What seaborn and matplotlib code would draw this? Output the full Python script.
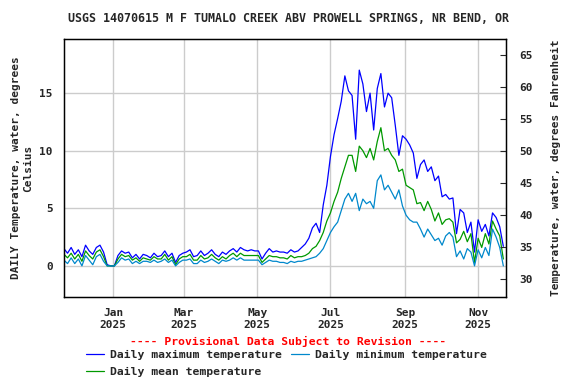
import matplotlib
matplotlib.use("Agg")
import matplotlib.pyplot as plt
import pandas as pd
import seaborn as sns

# ---------------------------------
# Data (every 3rd day)
# ---------------------------------

start_date = "2024-11-21"

temp_max = [
    1.5, 1.1, 1.6, 1.0, 1.4, 0.8, 1.8, 1.3, 1.0, 1.6, 1.8, 1.2, 0.1, 0.0,
    0.0, 0.9, 1.3, 1.1, 1.2, 0.7, 1.0, 0.6, 1.0, 0.9, 0.7, 1.1, 0.8, 0.9, 1.3, 0.8, 1.1, 0.3, 0.9, 1.1,
    1.2, 1.4, 0.8, 0.9, 1.3, 0.9, 1.1, 1.4, 1.0, 0.8, 1.2, 1.0, 1.3, 1.5, 1.2, 1.6, 1.4, 1.3, 1.4, 1.3,
    1.3, 0.6, 1.1, 1.5, 1.2, 1.3, 1.2, 1.2, 1.1, 1.4, 1.2, 1.3, 1.6, 1.9, 2.4, 3.3, 3.7, 2.9, 5.3, 7.0,
    9.5, 11.4, 12.8, 14.3, 16.5, 15.2, 14.8, 11.0, 17.0, 15.8, 13.4, 15.0, 11.8, 15.4, 16.7, 13.8, 15.0, 14.6, 12.2, 9.6, 11.3,
    11.0, 10.5, 9.8, 7.6, 8.8, 9.2, 8.2, 8.6, 7.4, 7.8, 6.0, 6.2, 5.8, 5.9, 2.8, 4.9, 4.6, 2.9, 3.8, 1.2,
    4.0, 3.0, 3.6, 2.6, 4.6, 4.2, 3.4, 1.7,
]

temp_mean = [
    1.0, 0.7, 1.1, 0.6, 1.0, 0.4, 1.3, 0.9, 0.6, 1.2, 1.4, 0.8, 0.0, 0.0,
    0.0, 0.6, 1.0, 0.8, 0.9, 0.5, 0.7, 0.4, 0.7, 0.6, 0.5, 0.8, 0.6, 0.6, 1.0, 0.5, 0.8, 0.1, 0.6, 0.8,
    0.8, 1.0, 0.5, 0.5, 0.9, 0.6, 0.7, 1.0, 0.7, 0.5, 0.8, 0.6, 0.9, 1.1, 0.8, 1.1, 0.9, 0.9, 0.9, 0.9,
    0.9, 0.3, 0.6, 0.9, 0.8, 0.8, 0.7, 0.7, 0.6, 0.9, 0.7, 0.8, 0.8, 0.9, 1.1, 1.5, 1.7, 2.2, 2.9, 3.9,
    4.6, 5.6, 6.4, 7.6, 8.6, 9.6, 9.6, 8.2, 10.4, 10.0, 9.4, 10.2, 9.2, 10.8, 12.0, 10.0, 10.2, 9.6, 9.2, 8.2, 8.4,
    7.0, 6.8, 6.6, 5.4, 5.5, 4.8, 5.6, 4.9, 3.9, 4.6, 3.6, 4.0, 4.1, 3.8, 2.0, 2.3, 3.0, 2.1, 2.8, 0.3,
    2.4, 1.6, 2.8, 1.9, 3.9, 3.2, 2.6, 0.6,
]

temp_min = [
    0.5, 0.2, 0.7, 0.2, 0.6, 0.0, 0.9, 0.5, 0.1, 0.8, 1.0, 0.4, 0.0, 0.0,
    0.0, 0.3, 0.7, 0.5, 0.6, 0.2, 0.4, 0.2, 0.4, 0.4, 0.3, 0.5, 0.3, 0.4, 0.6, 0.3, 0.5, 0.0, 0.3, 0.5,
    0.5, 0.6, 0.2, 0.2, 0.5, 0.3, 0.4, 0.6, 0.4, 0.2, 0.5, 0.4, 0.5, 0.7, 0.5, 0.7, 0.5, 0.5, 0.5, 0.5,
    0.5, 0.1, 0.3, 0.5, 0.4, 0.4, 0.3, 0.3, 0.2, 0.4, 0.3, 0.4, 0.4, 0.5, 0.6, 0.7, 0.8, 1.1, 1.5, 2.2,
    2.9, 3.4, 3.8, 4.8, 5.8, 6.3, 5.6, 6.3, 4.8, 5.8, 5.4, 5.6, 5.0, 7.4, 7.9, 6.6, 7.0, 6.4, 5.8, 6.6, 5.2,
    4.4, 4.0, 3.8, 3.8, 3.2, 2.5, 3.2, 2.7, 2.2, 2.4, 1.8, 2.6, 2.9, 2.5, 0.8, 1.3, 0.6, 1.5, 1.2, 0.0,
    1.4, 0.7, 1.6, 0.9, 3.2, 2.5, 1.6, 0.0,
]

month_ticks = ["2025-01-01", "2025-03-01", "2025-05-01", "2025-07-01", "2025-09-01", "2025-11-01"]
month_labels = ["Jan\n2025", "Mar\n2025", "May\n2025", "Jul\n2025", "Sep\n2025", "Nov\n2025"]
c_ticks = [0, 5, 10, 15]
f_ticks = [30, 35, 40, 45, 50, 55, 60, 65]

# ---------------------------------
# Plot
# ---------------------------------

sns.set_style("white")
plt.rcParams["font.family"] = ["DejaVu Sans Mono"]
plt.rcParams["font.weight"] = "bold"

dates = pd.date_range(start=start_date, periods=len(temp_max), freq="3D")
df = pd.DataFrame({"date": dates, "max": temp_max, "mean": temp_mean, "min": temp_min})

fig = plt.figure(figsize=(5.76, 3.84), dpi=100)
ax = fig.add_axes([0.111, 0.2266, 0.767, 0.6718])

sns.lineplot(data=df, x="date", y="max", color="#0000ff", lw=0.9, ax=ax, label="Daily maximum temperature")
sns.lineplot(data=df, x="date", y="mean", color="#009900", lw=0.9, ax=ax, label="Daily mean temperature")
sns.lineplot(data=df, x="date", y="min", color="#0088cc", lw=0.9, ax=ax, label="Daily minimum temperature")

ax.set_xlim(pd.Timestamp("2024-11-21"), pd.Timestamp("2025-11-24"))
ax.set_ylim(-2.7, 19.7)

ax.set_xticks(pd.to_datetime(month_ticks))
ax.set_xticklabels(month_labels, fontsize=8, fontweight="bold")
ax.set_yticks(c_ticks)
ax.set_yticklabels([str(t) for t in c_ticks], fontsize=8, fontweight="bold")
ax.tick_params(axis="both", length=0, pad=8)
ax.grid(True, color="#cccccc", lw=1)

for s in ax.spines.values():
    s.set_color("black")
    s.set_linewidth(1)

ax.set_xlabel("")
ax.set_ylabel("")
fig.text(0.038, 0.5625, "DAILY Temperature, water, degrees\nCelsius", rotation=90,
         ha="center", va="center", multialignment="center", fontsize=8, fontweight="bold")

ax2 = ax.twinx()
lo, hi = ax.get_ylim()
ax2.set_ylim(lo * 9 / 5 + 32, hi * 9 / 5 + 32)
ax2.set_yticks(f_ticks)
ax2.set_yticklabels([str(t) for t in f_ticks], fontsize=8, fontweight="bold")
ax2.tick_params(axis="y", direction="in", length=4, pad=10)
for s in ax2.spines.values():
    s.set_color("black")
fig.text(0.966, 0.5625, "Temperature, water, degrees Fahrenheit", rotation=90,
         ha="center", va="center", fontsize=8, fontweight="bold")

fig.text(0.5, 0.952, "USGS 14070615 M F TUMALO CREEK ABV PROWELL SPRINGS, NR BEND, OR",
         ha="center", va="center", fontsize=8.4, fontweight="bold")
fig.text(0.5, 0.112, "---- Provisional Data Subject to Revision ----",
         ha="center", va="center", fontsize=8.2, fontweight="bold", color="red")

handles, labels = ax.get_legend_handles_labels()
ax.get_legend().remove()
fig.legend(handles, labels, ncol=2, loc="upper left", bbox_to_anchor=(0.149, 0.088),
           frameon=False, fontsize=8.2, handlelength=1.6, handletextpad=0.5,
           columnspacing=0.8, labelspacing=0.55, borderaxespad=0, borderpad=0)

plt.savefig("out.png", dpi=100)
plt.close()
